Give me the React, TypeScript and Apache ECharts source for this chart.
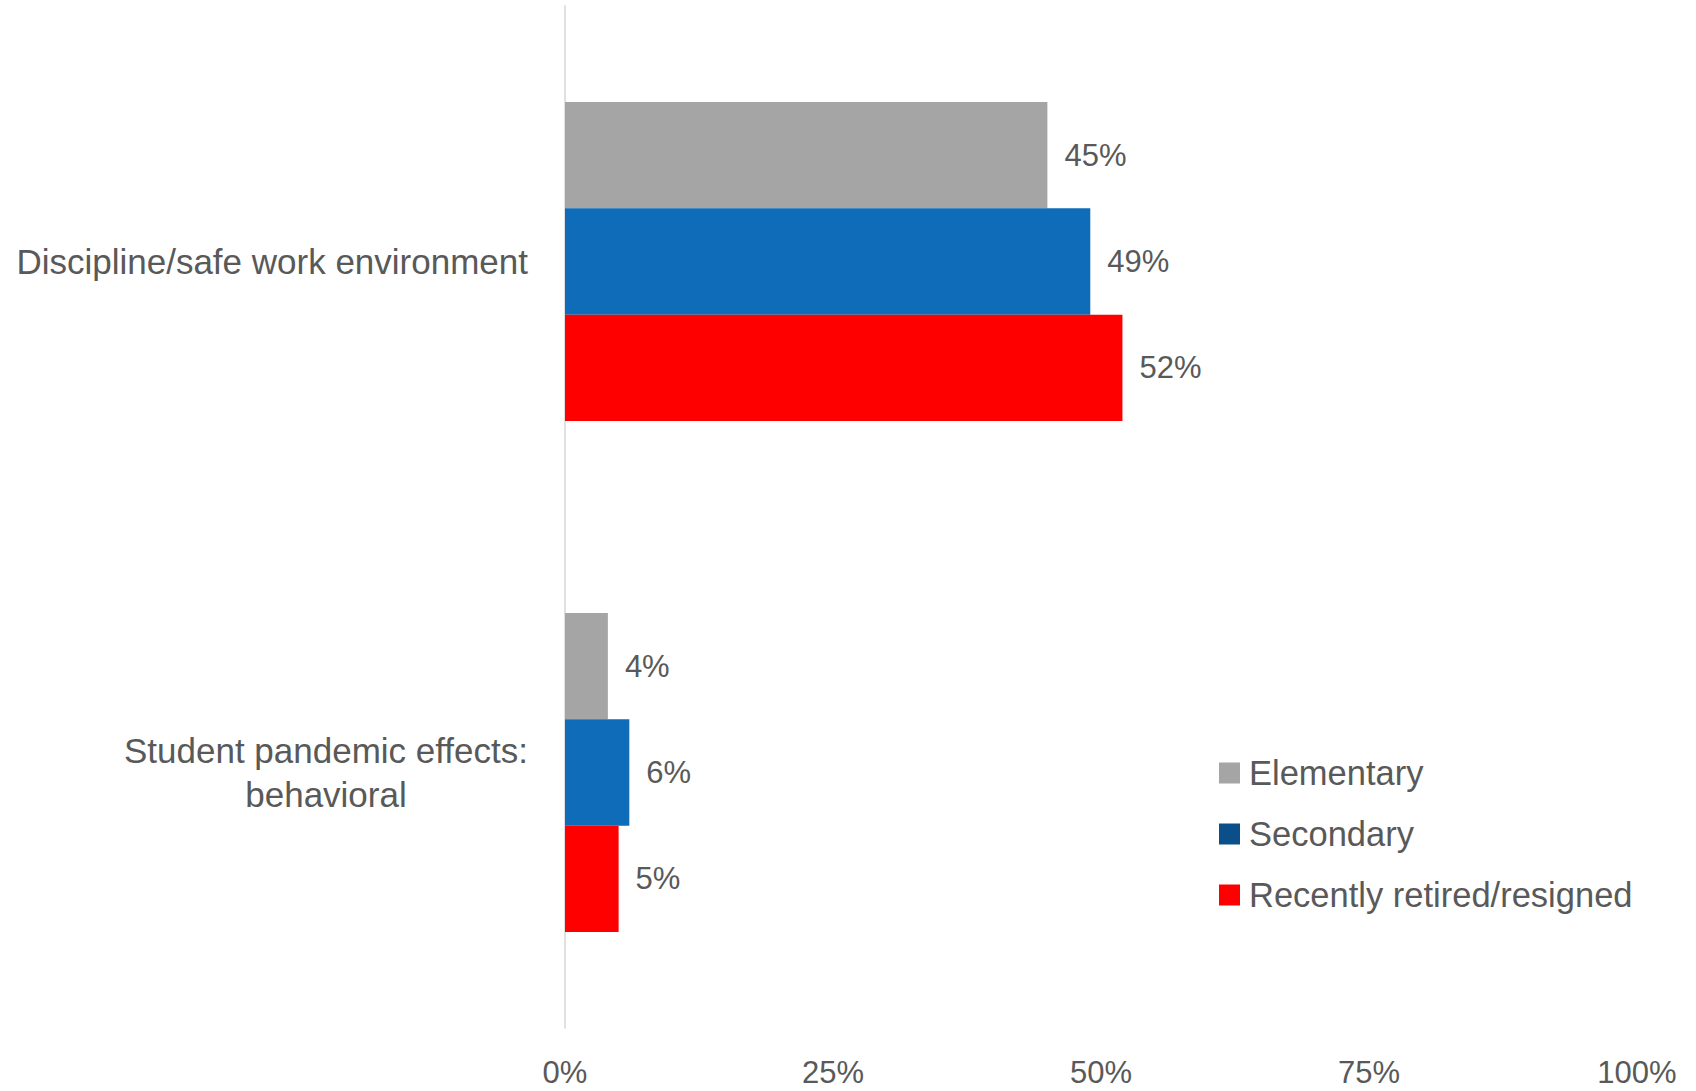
import React, { useEffect, useRef } from "react";
import * as echarts from "echarts";

const categories = ["Discipline/safe work environment", "Student pandemic effects:\nbehavioral"];
const seriesNames = ["Elementary", "Secondary", "Recently retired/resigned"];
const elementary = [0.45, 0.04];
const secondary = [0.49, 0.06];
const retired = [0.52, 0.05];
const barColors = ["#A5A5A5", "#0E6CB8", "#FF0000"];
const legendColors = ["#A5A5A5", "#0B4F8A", "#FF0000"];
const xTicks = [0, 0.25, 0.5, 0.75, 1];

const FONT = "'Liberation Sans', Arial, sans-serif";
const TEXT = "#595959";

export default function App() {
  const ref = useRef<HTMLDivElement>(null);
  useEffect(() => {
    if (!ref.current) return;
    const chart = echarts.init(ref.current, null, { renderer: "svg" });
    const values = [elementary, secondary, retired];
    chart.setOption({
      animation: false,
      backgroundColor: "#FFFFFF",
      textStyle: { fontFamily: FONT, color: TEXT },
      grid: { left: 565, top: 6, right: 59, bottom: 63, containLabel: false },
      legend: {
        orient: "vertical",
        left: 1214,
        top: 748,
        itemWidth: 21,
        itemHeight: 21,
        itemGap: 21,
        icon: "rect",
        textStyle: { fontFamily: FONT, fontSize: 34.5, color: TEXT, lineHeight: 40, padding: [0, 0, 0, 4] },
        data: seriesNames.map((n, i) => ({ name: n, itemStyle: { color: legendColors[i] } })),
      },
      xAxis: {
        type: "value",
        min: 0,
        max: 1,
        interval: 0.25,
        splitLine: { show: false },
        axisLine: { show: false },
        axisTick: { show: false },
        axisLabel: {
          margin: 27,
          fontFamily: FONT,
          fontSize: 31,
          lineHeight: 34,
          color: TEXT,
          customValues: xTicks,
          formatter: (v: number) => Math.round(v * 100) + "%",
        },
      },
      yAxis: {
        type: "category",
        inverse: true,
        data: categories,
        axisTick: { show: false },
        axisLine: { show: true, lineStyle: { color: "#D6D6D6", width: 1.5 } },
        axisLabel: {
          margin: 37,
          fontFamily: FONT,
          fontSize: 35,
          color: TEXT,
          align: "right",
          formatter: (v: string) =>
            v
              .split("\n")
              .map((l) => "{c|" + l + "}")
              .join("\n"),
          rich: {
            c: { fontFamily: FONT, fontSize: 35, color: TEXT, lineHeight: 44, align: "center" },
          },
        },
      },
      series: seriesNames.map((name, i) => ({
        name,
        type: "bar",
        data: values[i],
        barGap: "0%",
        barCategoryGap: "37.6%",
        itemStyle: { color: barColors[i] },
        label: {
          show: true,
          position: "right",
          distance: 17,
          fontFamily: FONT,
          fontSize: 31,
          color: TEXT,
          formatter: (p: any) => Math.round(p.value * 100) + "%",
        },
      })),
    });
    return () => chart.dispose();
  }, []);
  return (
    <div
      ref={ref}
      style={{ position: "absolute", left: 0, top: 0, width: 1696, height: 1091 }}
    />
  );
}
